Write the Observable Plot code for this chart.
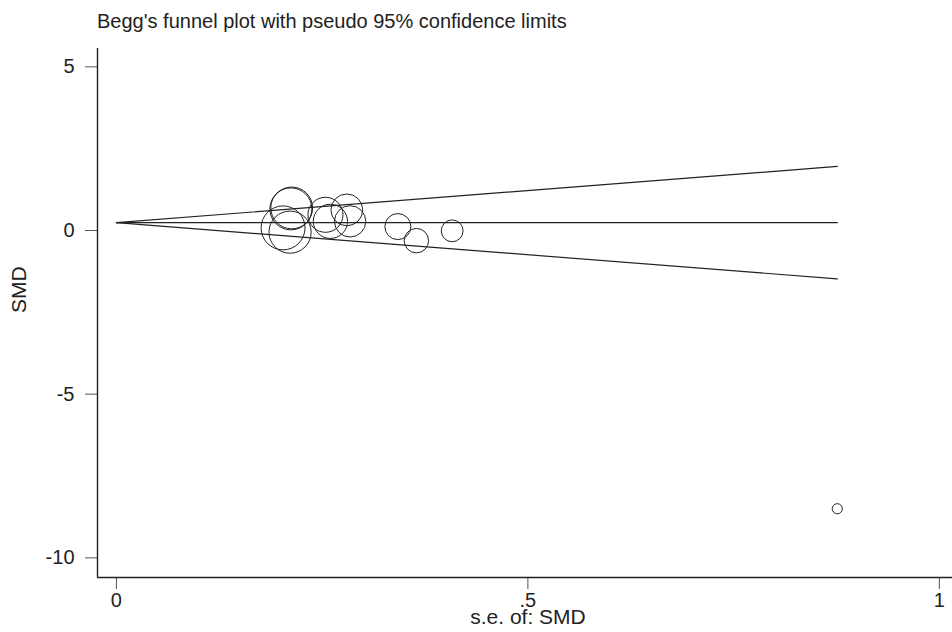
<!DOCTYPE html>
<html>
<head>
<meta charset="utf-8">
<script src="https://cdn.jsdelivr.net/npm/d3@7"></script>
<script src="https://cdn.jsdelivr.net/npm/@observablehq/plot@0.6"></script>
<style>
  html, body { margin: 0; padding: 0; background: #fff; }
  #title { font-family: "Liberation Sans", Arial, sans-serif; font-size: 20px; color: #222;
           padding-top: 10px; line-height: 22px; height: 36px; padding-left: 97px; white-space: nowrap;
           box-sizing: content-box; }
</style>
</head>
<body>
<div id="title">Begg's funnel plot with pseudo 95% confidence limits</div>
<div id="chart"></div>
<script>
// Study estimates (standard error and standardized mean difference)
const studySE  = [0.2025, 0.211, 0.212, 0.213, 0.254, 0.260, 0.280, 0.284, 0.342, 0.3645, 0.408, 0.876];
const studySMD = [0.08, -0.05, 0.66, 0.69, 0.48, 0.28, 0.63, 0.28, 0.12, -0.31, -0.01, -8.50];
// Pooled estimate and funnel extent
const pooledSMD = 0.24;
const funnelSE = [0, 0.876];
const zCrit = 1.96;
// Axis ticks
const xTicks = [0, 0.5, 1];
const xTickLabels = ["0", ".5", "1"];
const yTicks = [5, 0, -5, -10];
const yTickLabels = ["5", "0", "-5", "-10"];

const studies = studySE.map((se, i) => ({se, smd: studySMD[i], w: 1 / (se * se)}));
const upper = funnelSE.map(se => ({se, v: pooledSMD + zCrit * se}));
const mid = funnelSE.map(se => ({se, v: pooledSMD}));
const lower = funnelSE.map(se => ({se, v: pooledSMD - zCrit * se}));

const font = "Liberation Sans, Arial, sans-serif";
const ink = "#222";

const chart = Plot.plot({
  width: 952,
  height: 586,
  marginTop: 2,
  marginBottom: 55,
  marginLeft: 97,
  marginRight: 0,
  style: {fontFamily: font, color: ink, background: "#fff"},
  x: {domain: [-0.023, 1.016]},
  y: {domain: [-10.6, 5.56]},
  r: {type: "sqrt", domain: [0, 100], range: [0, 44.5]},
  marks: [
    Plot.axisY({ticks: yTicks, tickFormat: d => yTickLabels[yTicks.indexOf(d)], tickSize: 12, tickPadding: 11,
                fontSize: 20, label: null, stroke: "#555"}),
    Plot.axisX({ticks: xTicks, tickFormat: d => xTickLabels[xTicks.indexOf(d)], tickSize: 12, tickPadding: 3,
                fontSize: 20, label: null, stroke: "#555"}),
    Plot.ruleX([-0.023], {stroke: ink, strokeWidth: 1.4}),
    Plot.ruleY([-10.6], {stroke: ink, strokeWidth: 1.4}),
    Plot.line(upper, {x: "se", y: "v", stroke: ink, strokeWidth: 1.2}),
    Plot.line(mid, {x: "se", y: "v", stroke: ink, strokeWidth: 1.2}),
    Plot.line(lower, {x: "se", y: "v", stroke: ink, strokeWidth: 1.2}),
    Plot.dot(studies, {x: "se", y: "smd", r: "w", stroke: ink, strokeWidth: 1, fill: "none"}),
    Plot.text(["SMD"], {frameAnchor: "left", dx: -78, rotate: -90, fontSize: 21, fill: ink}),
    Plot.text(["s.e. of: SMD"], {frameAnchor: "bottom", dx: 3, dy: 46, fontSize: 21, fill: ink})
  ]
});
document.getElementById("chart").appendChild(chart);
</script>
</body>
</html>
